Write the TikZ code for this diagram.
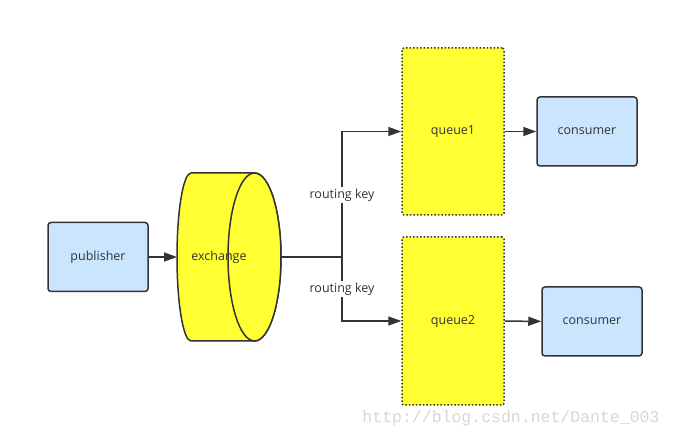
\documentclass[tikz,border=0pt]{standalone}
\usepackage{fontspec}
\setmainfont{Open Sans}
\newfontfamily\markfont{Liberation Mono}
\usepackage{tikz}
\usetikzlibrary{arrows.meta}
\usetikzlibrary{positioning}
\definecolor{color1}{HTML}{CCE5FF}
\definecolor{color2}{HTML}{FFFF33}
\definecolor{color3}{HTML}{333333}
\definecolor{color4}{HTML}{D9D6D1}
\newcommand{\DiagramFont}{\fontsize{12.5pt}{15pt}\selectfont}
\tikzset{
  rolebox/.style={
    draw=color3, fill=color1, rounded corners=3pt, line width=1.5pt,
    minimum width=100pt, minimum height=69pt, inner sep=0,
    font=\DiagramFont, text=color3
  },
  queuebox/.style={
    draw=color3, fill=color2, rounded corners=2pt, line width=1.5pt,
    dotted, minimum width=102pt, minimum height=167pt, inner sep=0,
    font=\DiagramFont, text=color3
  },
  drum/.style={
    draw=color3, fill=color2, line width=1.5pt, line join=round
  },
  flow/.style={
    -{Triangle[length=13pt, width=9pt]}, draw=color3, line width=1.5pt
  },
  link/.style={draw=color3, line width=1.5pt},
  keylabel/.style={
    fill=white, inner sep=2pt, font=\DiagramFont, text=color3
  }
}

\begin{document}
\begin{tikzpicture}[x=1pt, y=1pt]
    \useasboundingbox (0,0) rectangle (673,437);
    % boxes
    \node[rolebox] (publisher) at (98,180) {publisher};
    \node[draw=none, inner sep=0, outer sep=0,
          minimum width=104pt, minimum height=168pt] (exchange) at (229,180) {};
    \node[queuebox] (queue1) at (453,305.5) {queue1};
    \node[queuebox, minimum height=168pt] (queue2) at (453,116) {queue2};
    \node[rolebox] (consumer1) at (587,305.5) {consumer};
    \node[rolebox] (consumer2) at (592,115.5) {consumer};
    % the exchange drum
    \path[drum] ([xshift=14pt]exchange.north west)
        -- ([xshift=-26.5pt]exchange.north east)
        arc[start angle=90, end angle=-90, x radius=26.5pt, y radius=84pt]
        -- ([xshift=14pt]exchange.south west)
        arc[start angle=270, end angle=90, x radius=14pt, y radius=84pt]
        -- cycle;
    \draw[drum] ([xshift=-26.5pt]exchange.east)
        ellipse[x radius=26.5pt, y radius=84pt];
    \node[font=\DiagramFont, text=color3] (exchange label)
        at ([xshift=-10pt]exchange.center) {exchange};
    % connectors
    \coordinate (branch) at (342,180);
    \draw[flow] (publisher) -- (exchange);
    \draw[link] (exchange.east) -- (branch);
    \draw[flow] (branch) |- (queue1.west);
    \draw[flow] (branch) |- (queue2.west);
    \draw[flow] (queue1) -- (consumer1);
    \draw[flow] (queue2) -- (consumer2);
    \node[keylabel] (key1) at (342,242) {routing key};
    \node[keylabel] (key2) at (342,148) {routing key};
    % watermark
    \node[font=\markfont\fontsize{16.5pt}{18pt}\selectfont, text=color4]
        (mark) at (511,19) {http://blog.csdn.net/Dante\_003};
\end{tikzpicture}
\end{document}
